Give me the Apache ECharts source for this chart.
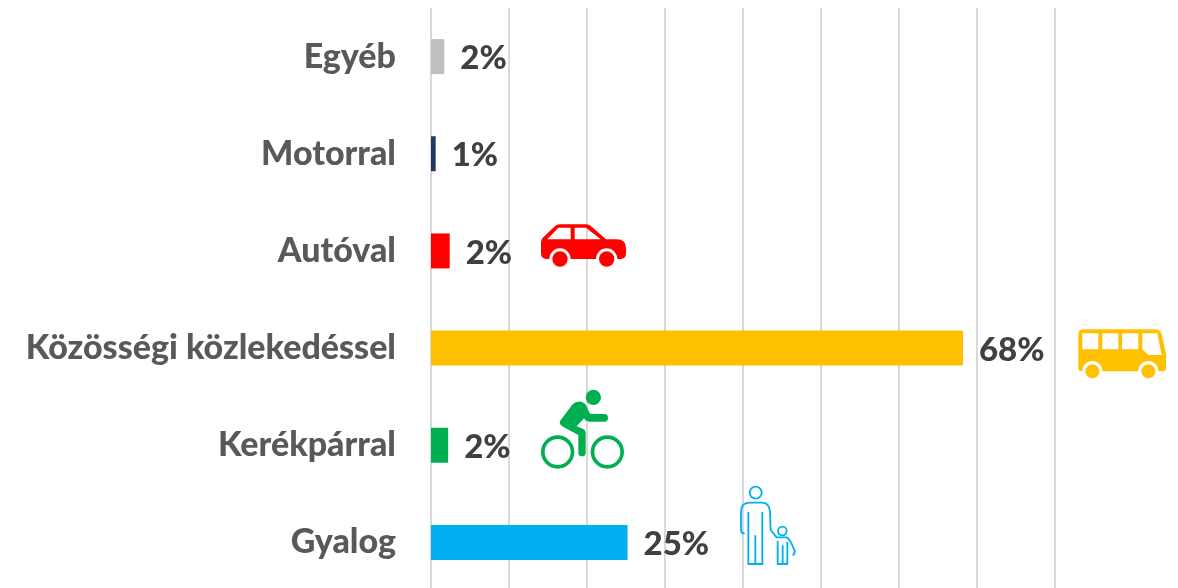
<!DOCTYPE html>
<html><head><meta charset="utf-8">
<style>html,body{margin:0;padding:0;background:#fff;overflow:hidden}#c{width:1178px;height:588px}</style>
<script src="https://cdn.jsdelivr.net/npm/echarts@6/dist/echarts.min.js"></script>
</head><body><div id="c"></div>
<script>
const categories = ['Egyéb','Motorral','Autóval','Közösségi közlekedéssel','Kerékpárral','Gyalog'];
const shares = [1.7,0.6,2.4,68.2,2.2,25.2];
const barColors = ['#BFBFBF','#1F3864','#FF0000','#FFC000','#00B050','#00B0F0'];

const S = 1/3;
function icon(x,y,children){return {type:'group',x:x,y:y,scaleX:S,scaleY:S,children:children};}
function p(d,style){return {type:'path',shape:{pathData:d},style:style};}
function c(cx,cy,r,style){return {type:'circle',shape:{cx:cx,cy:cy,r:r},style:style};}
const red={fill:'#FF0000'}, yel={fill:'#FFC000'}, grn={fill:'#00B050'};
const line=(col,w)=>({fill:null,stroke:col,lineWidth:w,lineCap:'round',lineJoin:'round'});
const car=icon(530,210,[
 p('M33 95 L33 130 Q33 147 50 147 L58 147 A32 32 0 0 1 122 147 L198 147 A32 32 0 0 1 262 147 L272 147 Q288 147 288 130 L288 115 Q288 88 260 88 L228 88 L185 50 Q178 43 168 43 L90 43 Q80 43 73 50 L40 82 Q33 88 33 95 Z M52 88 L85 53 L122 53 L122 88 Z M134 88 L134 53 L168 53 L212 88 Z',red),
 c(90,147,23,red),c(230,147,23,red)]);
const bus=icon(1070,320,[
 p('M25 45 L25 145 Q25 154 36 154 A31 31 0 0 1 98 154 L204 154 A31 31 0 0 1 266 154 L278 154 Q288 154 288 144 L288 100 L275 42 Q270 28 255 28 L40 28 Q25 28 25 45 Z M37 40 L85 40 L85 88 L37 88 Z M97 40 L145 40 L145 88 L97 88 Z M156 40 L205 40 L205 88 L156 88 Z M217 40 L262 40 L275 105 L235 105 L217 88 Z',yel),
 c(67,154,21,yel),c(235,154,21,yel)]);
const bike=icon(530,385,[
 c(190,37,23,grn),
 p('M90 108 L128 58 Q138 48 152 50 Q165 52 170 65 L180 86 L224 87 Q234 88 234 98 Q234 110 224 110 L178 110 Q168 110 162 100 L140 124 L160 132 Q167 135 167 145 L167 203 Q167 214 156 214 Q145 214 145 203 L145 150 L100 126 Q86 118 90 108 Z',grn),
 c(83,201,44.5,line('#00B050',11)),c(232,201,44.5,line('#00B050',11))]);
const blue=line('#00B0F0',5.5);
const walk=icon(730,480,[
 c(77,38,18,blue),
 p('M42 160 Q33 160 33 150 L33 95 Q33 68 60 68 L95 68 Q118 68 120 95 L122 150 L140 172 L170 172 Q180 175 195 215 L190 225',blue),
 p('M55 98 L55 252 L97 252 L97 98 M76 168 L76 252',blue),
 c(157,153,13,blue),
 p('M143 185 L143 252 L172 252 L172 187 M158 198 L158 252',blue)]);
const icons=[car,bus,bike,walk];

const chart=echarts.init(document.getElementById('c'),null,{renderer:'canvas'});
chart.setOption({
 animation:false,
 backgroundColor:'#fff',
 grid:{left:431,right:123,top:8,bottom:-3,outerBoundsMode:'none'},
 xAxis:{type:'value',min:0,max:80,interval:10,
   axisLabel:{show:false},axisLine:{show:false},axisTick:{show:false},
   splitLine:{show:true,lineStyle:{color:'#D9D9D9',width:2}}},
 yAxis:{type:'category',inverse:true,data:categories,
   axisLine:{show:false},axisTick:{show:false},
   axisLabel:{color:'#595959',fontFamily:'Lato',fontWeight:900,fontSize:34,margin:35}},
 series:[{type:'bar',barWidth:35,
   data:shares.map((v,i)=>({value:v,itemStyle:{color:barColors[i]}})),
   label:{show:true,position:'right',distance:16,color:'#404040',fontFamily:'Lato',fontWeight:900,fontSize:33,
     formatter:o=>Math.round(o.value)+'%',offset:[0,2]}},
  {type:'custom',silent:true,clip:false,z:5,
   data:icons.map((_,i)=>[0,i]),
   renderItem:(params)=>icons[params.dataIndex]}]
});
</script></body></html>
